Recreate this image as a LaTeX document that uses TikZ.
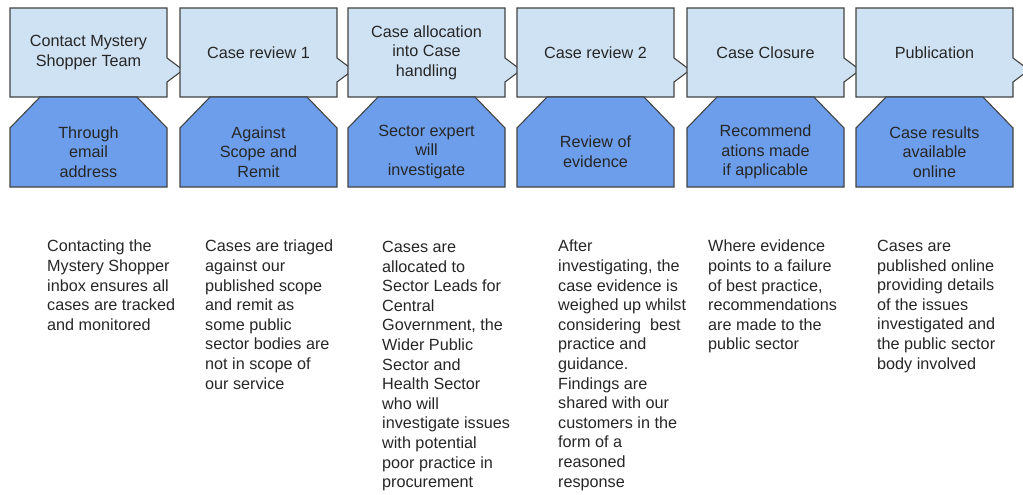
\documentclass[tikz,border=0pt]{standalone}
\usepackage{fontspec}
\setmainfont{Liberation Sans}
\definecolor{stagefill}{HTML}{CFE2F3}
\definecolor{howfill}{HTML}{6D9EEB}
\definecolor{edge}{HTML}{434343}
\definecolor{ink}{HTML}{262626}
\begin{document}
\begin{tikzpicture}[x=1pt, y=-1pt,
    shape edge/.style={draw=edge, line width=1.1pt, line join=miter},
    stagelabel/.style={align=center, inner sep=0pt, text=ink,
      font=\fontsize{16.2}{19.6}\selectfont},
    notetext/.style={align=left, inner sep=0pt, anchor=north west, text=ink,
      font=\fontsize{16.2}{19.6}\selectfont}]
  \useasboundingbox (0,0) rectangle (1023,495);
  % six stages: top box with arrow, shaped box below, notes underneath
  \foreach \x/\i/\top/\how in {
      10/1/{Contact Mystery\\Shopper Team}/{Through\\email\\address},
      180/2/{Case review 1}/{Against\\Scope and\\Remit},
      348/3/{Case allocation\\into Case\\handling}/{Sector expert\\will\\investigate},
      517/4/{Case review 2}/{Review of\\evidence},
      687/5/{Case Closure}/{Recommend\\ations made\\if applicable},
      856/6/{Publication}/{Case results\\available\\online}} {
    \draw[shape edge, fill=stagefill] (\x,8) -- (\x+157,8) -- (\x+157,58)
      -- (\x+173,70) -- (\x+157,82) -- (\x+157,97) -- (\x,97) -- cycle;
    \draw[shape edge, fill=howfill] (\x+30,97) -- (\x+127,97) -- (\x+157,128)
      -- (\x+157,187) -- (\x,187) -- (\x,128) -- cycle;
    \node[stagelabel] (stage\i) at (\x+78.5,52.5) {\top};
    \node[stagelabel] (how\i) at (\x+78.5,152) {\how};
  }
  \node[notetext] (note1) at (47,240) {Contacting the\\Mystery Shopper\\inbox ensures all\\cases are tracked\\and monitored};
  \node[notetext] (note2) at (205,240) {Cases are triaged\\against our\\published scope\\and remit as\\some public\\sector bodies are\\not in scope of\\our service};
  \node[notetext] (note3) at (382,241) {Cases are\\allocated to\\Sector Leads for\\Central\\Government, the\\Wider Public\\Sector and\\Health Sector\\who will\\investigate issues\\with potential\\poor practice in\\procurement};
  \node[notetext] (note4) at (558,240) {After\\investigating, the\\case evidence is\\weighed up whilst\\considering\ \ best\\practice and\\guidance.\\Findings are\\shared with our\\customers in the\\form of a\\reasoned\\response};
  \node[notetext] (note5) at (708,240) {Where evidence\\points to a failure\\of best practice,\\recommendations\\are made to the\\public sector};
  \node[notetext] (note6) at (877,240) {Cases are\\published online\\providing details\\of the issues\\investigated and\\the public sector\\body involved};
\end{tikzpicture}
\end{document}
